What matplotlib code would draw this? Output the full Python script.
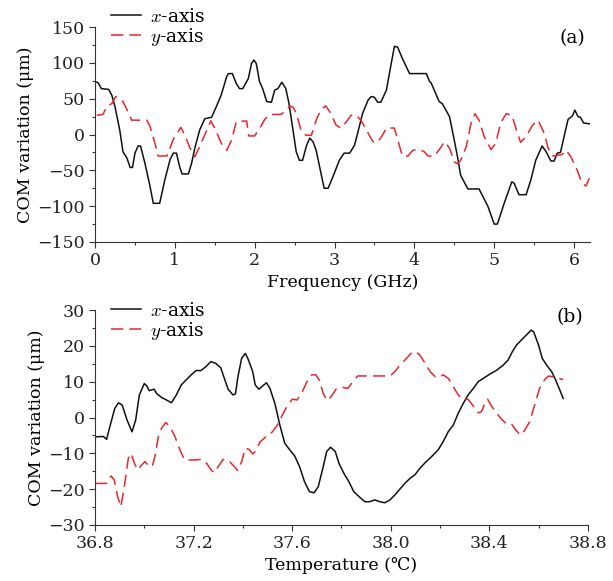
import matplotlib
matplotlib.use("Agg")
import matplotlib.pyplot as plt
from matplotlib.ticker import MultipleLocator

plt.rcParams['font.family'] = ['DejaVu Serif', 'DejaVu Sans']
plt.rcParams['mathtext.fontset'] = 'cm'

# ---- Panel (a): frequency ----
fa_x = [0.02, 0.04, 0.08, 0.17, 0.21, 0.25, 0.31, 0.35, 0.40, 0.44, 0.47, 0.50, 0.54, 0.57, 0.625, 0.69,
        0.73, 0.81, 0.875, 0.94, 0.98, 1.02, 1.06, 1.09, 1.17, 1.21, 1.25, 1.31, 1.375, 1.46, 1.52, 1.58,
        1.65, 1.67, 1.72, 1.77, 1.81, 1.85, 1.92, 1.96, 1.99, 2.02, 2.06, 2.10, 2.15, 2.21, 2.25, 2.29,
        2.34, 2.39, 2.43, 2.48, 2.52, 2.56, 2.60, 2.65, 2.69, 2.73, 2.77, 2.83, 2.87, 2.92, 2.98, 3.06,
        3.12, 3.19, 3.25, 3.29, 3.35, 3.42, 3.46, 3.50, 3.54, 3.58, 3.65, 3.71, 3.75, 3.79, 3.85, 3.94,
        4.15, 4.19, 4.21, 4.31, 4.35, 4.44, 4.50, 4.54, 4.58, 4.67, 4.81, 4.92, 5.00, 5.04, 5.125, 5.17,
        5.22, 5.25, 5.31, 5.40, 5.46, 5.52, 5.60, 5.65, 5.71, 5.75, 5.79, 5.83, 5.875, 5.925, 5.98, 6.01,
        6.05, 6.08, 6.12, 6.19]
fa_xval = [73, 72, 64, 63, 55, 39, 6, -24, -33, -46, -46, -26, -16, -16, -40, -73,
           -96, -96, -63, -35, -26, -26, -45, -55, -55, -40, -19, 6, 22, 24, 39, 55,
           81, 85, 85, 71, 64, 64, 78, 99, 104, 99, 74, 64, 46, 45, 62, 64,
           73, 64, 43, 6, -24, -36, -36, -15, -5, -10, -22, -54, -75, -75, -59, -36,
           -26, -26, -15, 2, 29, 48, 53, 52, 45, 45, 62, 99, 123, 122, 106, 85,
           85, 74, 72, 46, 43, 25, -8, -31, -57, -76, -76, -100, -125, -125, -96, -82,
           -66, -68, -84, -84, -63, -36, -16, -24, -37, -37, -26, -25, -3, 21, 26, 34,
           25, 24, 16, 15]

fa_y = [0.02, 0.04, 0.10, 0.15, 0.21, 0.26, 0.31, 0.35, 0.42, 0.46, 0.65, 0.69, 0.75, 0.79, 0.90, 0.98,
        1.075, 1.125, 1.19, 1.25, 1.31, 1.40, 1.45, 1.50, 1.58, 1.65, 1.71, 1.77, 1.90, 1.925, 2.00, 2.08,
        2.125, 2.19, 2.33, 2.40, 2.44, 2.48, 2.52, 2.58, 2.64, 2.71, 2.77, 2.83, 2.89, 2.95, 3.02, 3.08,
        3.15, 3.21, 3.27, 3.33, 3.42, 3.48, 3.54, 3.60, 3.65, 3.75, 3.79, 3.85, 3.92, 3.98, 4.06, 4.125,
        4.17, 4.25, 4.325, 4.38, 4.44, 4.50, 4.54, 4.58, 4.65, 4.71, 4.76, 4.81, 4.875, 4.96, 5.02, 5.08,
        5.15, 5.22, 5.28, 5.33, 5.40, 5.48, 5.55, 5.625, 5.675, 5.73, 5.85, 5.90, 5.96, 6.04, 6.10, 6.15,
        6.19]
fa_yval = [27, 27, 28, 40, 43, 53, 49, 46, 30, 20, 20, 11, -12, -30, -30, -7,
           10, -1, -19, -31, -17, 6, 19, 9, -12, -22, -8, 18, 19, -2, -2, 12,
           21, 28, 28, 34, 40, 38, 30, 6, -1, -1, 20, 35, 40, 30, 13, 9,
           18, 27, 27, 20, 2, -10, -11, -1, 9, 9, -7, -30, -30, -22, -21, -24,
           -30, -30, -19, -10, -19, -38, -41, -36, -17, 16, 29, 20, -3, -21, -12, 16,
           29, 27, 6, -11, -3, 13, 20, 2, -19, -30, -28, -22, -31, -50, -68, -72,
           -61]

# ---- Panel (b): temperature ----
tb_x = [36.80, 36.834, 36.847, 36.86, 36.88, 36.895, 36.91, 36.93, 36.95, 36.965, 36.98, 37.0, 37.01,
        37.02, 37.04, 37.05, 37.07, 37.09, 37.11, 37.13, 37.15, 37.17, 37.19, 37.21, 37.23, 37.25, 37.27,
        37.29, 37.31, 37.32, 37.34, 37.36, 37.37, 37.38, 37.395, 37.41, 37.42, 37.44, 37.45, 37.465,
        37.48, 37.496, 37.51, 37.53, 37.55, 37.57, 37.59, 37.61, 37.63, 37.65, 37.67, 37.689, 37.706,
        37.726, 37.74, 37.756, 37.775, 37.79, 37.81, 37.83, 37.85, 37.875, 37.895, 37.915, 37.935, 37.956,
        37.976, 37.997, 38.017, 38.037, 38.057, 38.078, 38.098, 38.118, 38.14, 38.166, 38.193, 38.213,
        38.234, 38.254, 38.274, 38.294, 38.314, 38.335, 38.355, 38.375, 38.402, 38.43, 38.456, 38.476,
        38.493, 38.51, 38.53, 38.55, 38.57, 38.58, 38.60, 38.615, 38.633, 38.653, 38.669, 38.686, 38.70]
tb_xval = [-5.4, -5.3, -6.1, -2.6, 2.5, 4.1, 3.5, -0.7, -4.0, -0.7, 6.3, 9.5, 8.8,
           7.5, 7.9, 6.7, 5.6, 4.9, 4.1, 6.3, 9.1, 10.5, 11.9, 13.1, 13.1, 14.2, 15.6,
           15.1, 13.9, 11.9, 7.9, 6.3, 6.6, 11.4, 16.5, 17.9, 16.5, 12.8, 9.1, 7.9,
           8.8, 9.7, 8.1, 3.9, -2.1, -7.2, -9.0, -10.7, -13.7, -17.9, -20.7, -21.0, -19.3,
           -13.7, -9.5, -8.3, -9.5, -12.8, -15.6, -17.9, -20.7, -22.3, -23.5, -23.5, -23.0, -23.5,
           -23.8, -23.0, -21.6, -20.0, -18.4, -17.0, -16.0, -14.2, -12.6, -10.9, -9.0, -6.7,
           -3.9, -2.1, 1.2, 3.9, 6.3, 8.1, 10.0, 10.9, 12.1, 13.2, 14.6, 16.0,
           18.3, 20.2, 21.6, 23.0, 24.4, 23.9, 20.2, 16.5, 14.6, 12.8, 10.5, 7.7, 5.3]

tb_y = [36.80, 36.847, 36.865, 36.878, 36.892, 36.905, 36.919, 36.935, 36.946, 36.96, 36.973, 36.989,
        37.003, 37.02, 37.033, 37.043, 37.057, 37.07, 37.087, 37.104, 37.125, 37.145, 37.162, 37.19,
        37.233, 37.253, 37.273, 37.284, 37.30, 37.32, 37.34, 37.36, 37.379, 37.395, 37.41, 37.425,
        37.44, 37.45, 37.47, 37.496, 37.52, 37.54, 37.56, 37.58, 37.60, 37.62, 37.64, 37.66, 37.68,
        37.696, 37.71, 37.726, 37.743, 37.76, 37.78, 37.806, 37.826, 37.846, 37.866, 37.927, 37.997,
        38.017, 38.037, 38.064, 38.085, 38.102, 38.118, 38.14, 38.16, 38.18, 38.193, 38.213, 38.234,
        38.254, 38.274, 38.294, 38.314, 38.335, 38.355, 38.368, 38.382, 38.393, 38.409, 38.43, 38.45,
        38.47, 38.49, 38.51, 38.527, 38.54, 38.564, 38.584, 38.604, 38.625, 38.641, 38.665, 38.70]
tb_yval = [-18.4, -18.4, -16.3, -17.4, -22.1, -24.9, -19.3, -11.4, -10.0, -12.8, -14.6, -13.3,
           -12.3, -13.7, -13.5, -10.9, -5.4, -3.0, -1.4, -2.6, -5.4, -9.1, -11.7, -11.9,
           -11.7, -12.8, -14.8, -15.4, -13.7, -11.7, -11.9, -13.3, -14.8, -12.3, -8.6, -8.9,
           -10.2, -9.5, -6.8, -5.2, -4.0, -2.1, 0.7, 3.2, 5.1, 4.9, 7.0, 10.0, 11.9,
           11.9, 10.5, 6.7, 4.7, 6.0, 8.1, 8.4, 8.1, 10.0, 11.6, 11.6, 11.6,
           12.8, 14.6, 16.5, 18.1, 18.4, 17.4, 15.1, 12.8, 11.4, 11.2, 11.9, 10.9,
           8.6, 6.3, 5.1, 5.1, 3.2, 1.3, 1.6, 3.9, 5.1, 3.2, 1.2, -0.5,
           -1.8, -1.8, -3.7, -4.9, -3.9, -1.2, 3.5, 8.1, 10.6, 11.6, 11.2, 10.6]

RED = '#e8262d'
FS = 12.5
LFS = 13.5

fig = plt.figure(figsize=(6.13, 5.81), dpi=100)
ax1 = fig.add_axes([0.155, 0.5835, 0.8075, 0.370])
ax2 = fig.add_axes([0.155, 0.0964, 0.804, 0.370])

def style(ax):
    for s in ['top', 'right']:
        ax.spines[s].set_visible(False)
    for s in ['left', 'bottom']:
        ax.spines[s].set_linewidth(0.8)
        ax.spines[s].set_color('#333333')
    ax.tick_params(which='major', direction='out', length=4, width=0.8, labelsize=FS, colors='#333333',
                   labelcolor='#222222')
    ax.tick_params(which='minor', direction='out', length=2.5, width=0.8, colors='#333333')

ax1.plot(fa_x, fa_xval, color='#111111', lw=1.1, label='$x$-axis')
ax1.plot(fa_y, fa_yval, color=RED, lw=1.1, dashes=(8, 4), label='$y$-axis')
ax1.set_xlim(0, 6.2)
ax1.set_ylim(-150, 150)
ax1.xaxis.set_major_locator(MultipleLocator(1))
ax1.xaxis.set_minor_locator(MultipleLocator(0.5))
ax1.yaxis.set_major_locator(MultipleLocator(50))
ax1.yaxis.set_minor_locator(MultipleLocator(25))
ax1.set_xlabel('Frequency (GHz)', fontsize=FS, labelpad=3)
ax1.set_ylabel('COM variation (μm)', fontsize=FS, labelpad=2)
style(ax1)
ax1.legend(loc='upper left', bbox_to_anchor=(0.005, 1.15), frameon=False, fontsize=LFS,
           handlelength=1.6, handletextpad=0.5, labelspacing=0.0, borderaxespad=0.3)
ax1.text(0.99, 0.99, '(a)', transform=ax1.transAxes, ha='right', va='top', fontsize=LFS)

ax2.plot(tb_x, tb_xval, color='#111111', lw=1.1, label='$x$-axis')
ax2.plot(tb_y, tb_yval, color=RED, lw=1.1, dashes=(8, 4), label='$y$-axis')
ax2.set_xlim(36.8, 38.8)
ax2.set_ylim(-30, 30)
ax2.xaxis.set_major_locator(MultipleLocator(0.4))
ax2.xaxis.set_minor_locator(MultipleLocator(0.2))
ax2.yaxis.set_major_locator(MultipleLocator(10))
ax2.yaxis.set_minor_locator(MultipleLocator(5))
ax2.set_xticks([36.8, 37.2, 37.6, 38.0, 38.4, 38.8])
ax2.set_xticklabels(['36.8', '37.2', '37.6', '38.0', '38.4', '38.8'])
ax2.set_xlabel('Temperature (℃)', fontsize=FS, labelpad=3)
ax2.set_ylabel('COM variation (μm)', fontsize=FS, labelpad=2)
style(ax2)
ax2.legend(loc='upper left', bbox_to_anchor=(0.005, 1.10), frameon=False, fontsize=LFS,
           handlelength=1.6, handletextpad=0.5, labelspacing=0.0, borderaxespad=0.3)
ax2.text(0.99, 1.01, '(b)', transform=ax2.transAxes, ha='right', va='top', fontsize=LFS)

fig.savefig('out.png', dpi=100)
